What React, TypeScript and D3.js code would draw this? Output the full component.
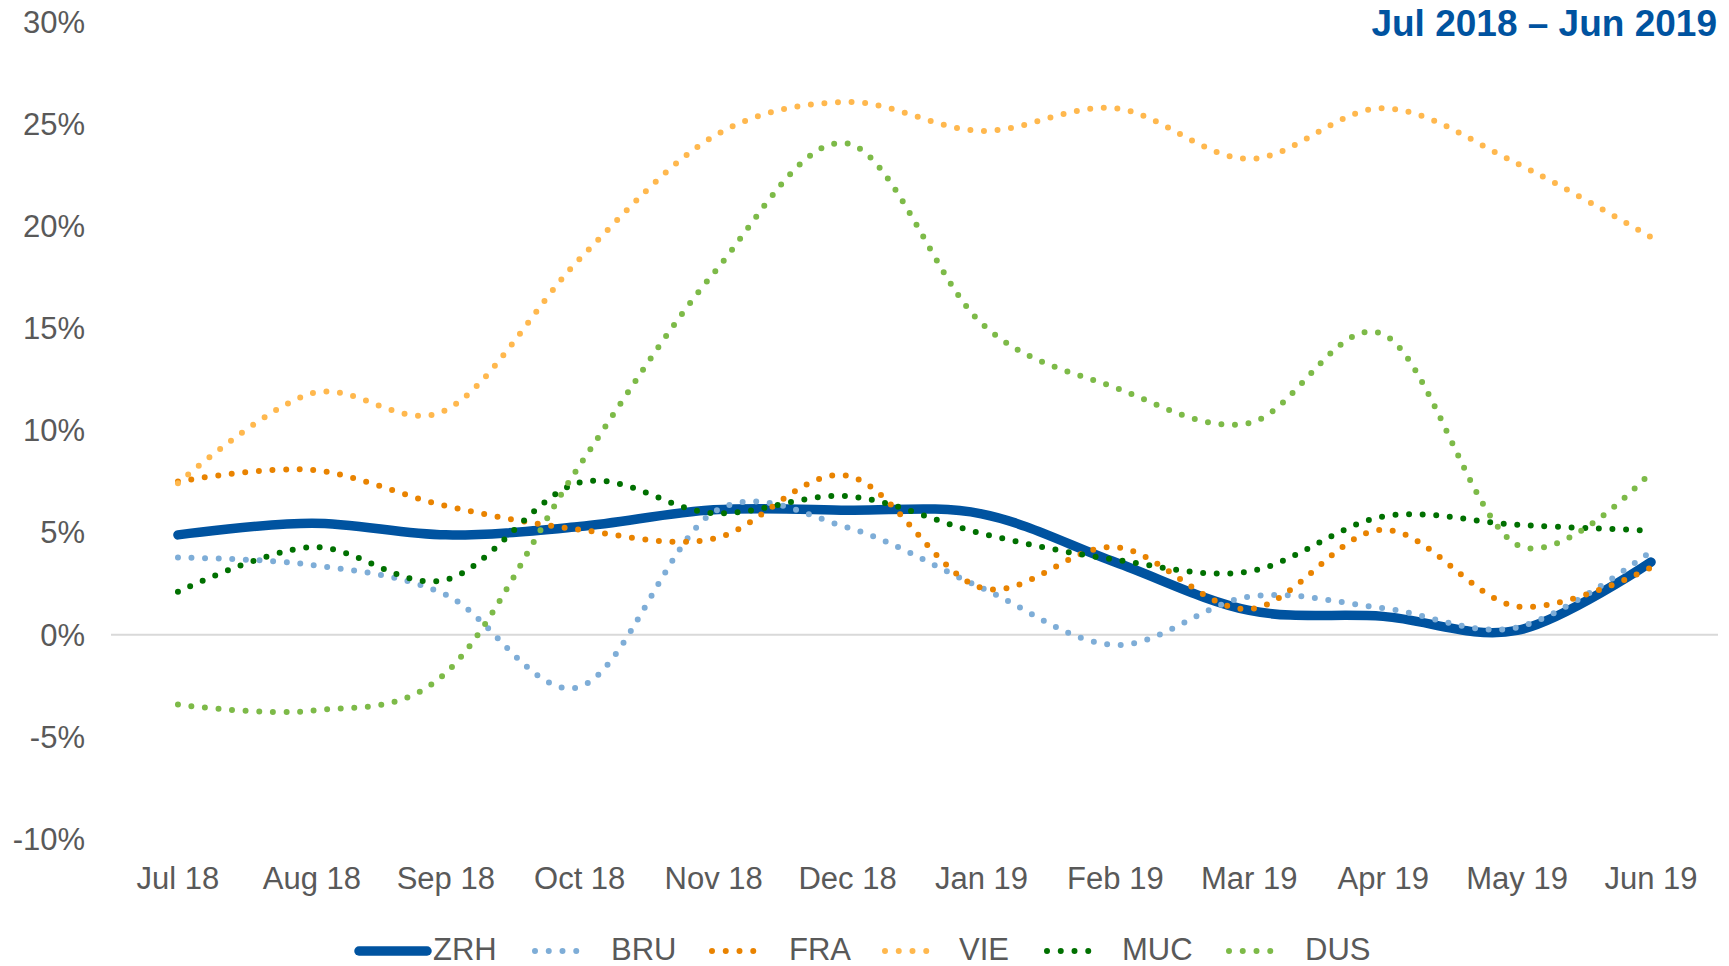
import React from "react";
import * as d3 from "d3";

const months = ["Jul 18", "Aug 18", "Sep 18", "Oct 18", "Nov 18", "Dec 18", "Jan 19", "Feb 19", "Mar 19", "Apr 19", "May 19", "Jun 19"];
const yTicks = [-10, -5, 0, 5, 10, 15, 20, 25, 30];

const zrh = [4.89, 5.46, 4.89, 5.3, 6.12, 6.1, 5.92, 3.55, 1.19, 0.9, 0.21, 3.56];
const bru = [3.78, 3.42, 1.96, -2.55, 6.0, 5.25, 2.3, -0.5, 1.87, 1.3, 0.36, 4.08];
const fra = [7.5, 8.07, 6.31, 5.14, 4.7, 7.78, 2.3, 4.29, 1.26, 5.14, 1.39, 3.29];
const vie = [7.42, 11.82, 11.0, 18.4, 24.4, 26.08, 24.67, 25.78, 23.3, 25.78, 23.07, 19.46];
const muc = [2.1, 4.29, 2.69, 7.45, 5.95, 6.78, 4.96, 3.67, 3.1, 5.79, 5.38, 5.1];
const dus = [-3.42, -3.72, -1.87, 8.3, 17.7, 24.05, 15.25, 12.1, 10.36, 14.71, 4.4, 7.95];

const seriesNames = ["ZRH", "BRU", "FRA", "VIE", "MUC", "DUS"];
const seriesValues = [zrh, bru, fra, vie, muc, dus];
const seriesColors = ["#0053A0", "#7EADD7", "#E98300", "#FFB84E", "#007000", "#7DBA48"];

const title = "Jul 2018 \u2013 Jun 2019";

const W = 1729;
const H = 966;
const FONT = "'Liberation Sans', Arial, sans-serif";
const TEXT = "#595959";

export default function App() {
  const x = d3.scalePoint<string>().domain(months).range([111, 1718]).padding(0.5);
  const y = d3.scaleLinear().domain([-10, 30]).range([839, 22]);
  const line = d3
    .line<number>()
    .x((_, i) => x(months[i]) as number)
    .y((d) => y(d))
    .curve(d3.curveCardinal.tension(0));

  const legendItems = [
    { x0: 359, x1: 427, tx: 433 },
    { x0: 535, x1: 590, tx: 611 },
    { x0: 712, x1: 767, tx: 789 },
    { x0: 885, x1: 940, tx: 959 },
    { x0: 1047, x1: 1102, tx: 1122 },
    { x0: 1229, x1: 1284, tx: 1305 },
  ];

  return (
    <svg width={W} height={H} style={{ position: "absolute", left: 0, top: 0, background: "#fff" }} fontFamily={FONT}>
      <rect x={0} y={0} width={W} height={H} fill="#fff" />
      {yTicks.map((t) => (
        <text key={t} x={85} y={y(t)} dy="0.35em" textAnchor="end" fontSize={31} fill={TEXT}>
          {`${t}%`}
        </text>
      ))}
      <line x1={111} x2={1718} y1={y(0)} y2={y(0)} stroke="#D9D9D9" strokeWidth={2} />
      {months.map((m) => (
        <text key={m} x={x(m)} y={889} textAnchor="middle" fontSize={31} fill={TEXT}>
          {m}
        </text>
      ))}
      {seriesValues.map((vals, i) => (
        <path
          key={seriesNames[i]}
          d={line(vals) || ""}
          fill="none"
          stroke={seriesColors[i]}
          strokeWidth={i === 0 ? 9.5 : 6}
          strokeLinecap="round"
          strokeLinejoin="round"
          strokeDasharray={i === 0 ? undefined : "0 13.6"}
        />
      ))}
      <text x={1717} y={36} textAnchor="end" fontSize={37} fontWeight="bold" fill="#0053A0">
        {title}
      </text>
      {legendItems.map((it, i) => (
        <g key={seriesNames[i]}>
          <line
            x1={it.x0}
            x2={it.x1}
            y1={951}
            y2={951}
            stroke={seriesColors[i]}
            strokeWidth={i === 0 ? 9.5 : 6}
            strokeLinecap="round"
            strokeDasharray={i === 0 ? undefined : `0 ${(it.x1 - it.x0) / 4}`}
          />
          <text x={it.tx} y={960} fontSize={31} fill={TEXT}>
            {seriesNames[i]}
          </text>
        </g>
      ))}
    </svg>
  );
}
